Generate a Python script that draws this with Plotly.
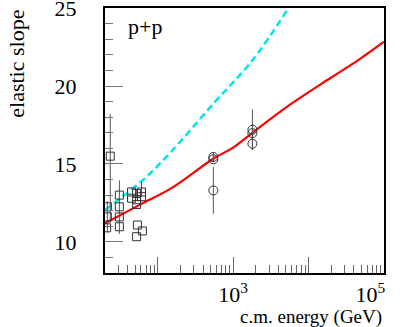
import plotly.graph_objects as go

# open squares (ISR energies)
sq_energy = [21.5, 21.5, 21.0, 23.5, 31, 31, 31, 31, 45, 45, 52.5, 52.5, 52.5, 61, 61, 53.8, 62.6, 52.5]
sq_slope = [12.25, 11.6, 10.9, 15.5, 13.0, 12.25, 11.6, 10.97, 13.2, 12.8, 13.1, 12.7, 12.4, 13.2, 12.9, 11.08, 10.7, 10.33]
sq_err_up = [0, 1.0, 0, 2.7, 0, 1.7, 0, 0, 0, 0, 0.3, 0, 0, 0.65, 0, 0, 0, 0]
sq_err_dn = [0, 1.0, 0, 4.3, 0, 1.75, 0, 0, 0, 0, 0.3, 0, 0, 0.3, 0, 0, 0, 0]

# open circles (collider energies)
ci_energy = [546, 546, 546, 1800, 1800, 1800]
ci_slope = [15.45, 15.3, 13.3, 17.2, 16.98, 16.3]
ci_err = [0.3, 0.2, 1.5, 1.3, 0.25, 0.4]

# model curves
red_energy = [20, 60, 150, 550, 1000, 1800, 5000, 20000, 45000, 100000]
red_slope = [11.19, 12.42, 13.43, 15.35, 16.05, 17.0, 18.62, 20.55, 21.65, 22.85]
cyan_energy = [20, 70, 150, 550, 1800, 5400]
cyan_slope = [12.04, 14.15, 15.78, 18.88, 21.65, 25.0]

x_major = [100, 1000, 10000, 100000]
x_major_text = ["", "10<sup>3</sup>", "", "10<sup>5</sup>&nbsp;&nbsp;&nbsp;&nbsp;&nbsp;"]
x_minor = [m * 10 ** k for k in range(1, 5) for m in range(2, 10)]

serif = "Liberation Serif"

fig = go.Figure()

fig.add_trace(go.Scatter(
    x=cyan_energy, y=cyan_slope, mode="lines", line_shape="spline",
    line=dict(color="#00e6e6", width=2.5, dash="7px,4px")))
fig.add_trace(go.Scatter(
    x=red_energy, y=red_slope, mode="lines", line_shape="spline",
    line=dict(color="red", width=2.2)))

fig.add_trace(go.Scatter(
    x=sq_energy, y=sq_slope, mode="markers",
    marker=dict(symbol="square-open", size=8, color="#333333", line=dict(width=1)),
    error_y=dict(type="data", array=sq_err_up, arrayminus=sq_err_dn,
                 color="#555555", thickness=1, width=0)))
fig.add_trace(go.Scatter(
    x=ci_energy, y=ci_slope, mode="markers",
    marker=dict(symbol="circle-open", size=9, color="#333333", line=dict(width=1)),
    error_y=dict(type="data", array=ci_err, color="#555555", thickness=1, width=0)))

fig.update_layout(
    width=409, height=327,
    margin=dict(l=105, r=25, t=8, b=54, autoexpand=False),
    paper_bgcolor="white", plot_bgcolor="white",
    showlegend=False,
    font=dict(family=serif, size=20, color="black"),
    annotations=[
        dict(text="p+p", x=0.075, y=0.93, xref="paper", yref="paper",
             xanchor="left", yanchor="middle", showarrow=False,
             font=dict(family=serif, size=22, color="black")),
        dict(text="elastic slope", x=-0.32, y=1.0, xref="paper", yref="paper",
             xanchor="center", yanchor="top", textangle=-90, showarrow=False,
             font=dict(family=serif, size=22, color="black")),
        dict(text="c.m. energy (GeV)", x=1.0, y=-0.118, xref="paper", yref="paper",
             xanchor="right", yanchor="top", showarrow=False,
             font=dict(family=serif, size=19, color="black")),
    ],
)

fig.update_xaxes(
    type="log", range=[1.30103, 5], automargin=False,
    tickmode="array", tickvals=x_major, ticktext=x_major_text,
    ticks="inside", ticklen=16, tickcolor="#666666", tickwidth=1,
    minor=dict(tickmode="array", tickvals=x_minor, ticks="inside",
               ticklen=8, tickcolor="#666666"),
    showline=True, linecolor="black", linewidth=2, mirror=True,
    showgrid=False, zeroline=False,
    ticklabelstandoff=1, ticklabeloverflow="allow",
    tickfont=dict(family=serif, size=22, color="black"),
)
fig.update_yaxes(
    range=[8, 25.01], tick0=10, dtick=5, automargin=False,
    ticks="inside", ticklen=18, tickcolor="#777777", tickwidth=1,
    minor=dict(dtick=1, ticks="inside", ticklen=8, tickcolor="#777777"),
    showline=True, linecolor="black", linewidth=2, mirror=True,
    showgrid=False, zeroline=False,
    ticklabelstandoff=22, ticklabeloverflow="allow",
    tickfont=dict(family=serif, size=22, color="black"),
)

# the page body has a default 8px margin; drop it so the figure sits at 0,0
fig.write_html("out.html", config={"displayModeBar": False},
               post_script="document.body.style.margin='0';")
